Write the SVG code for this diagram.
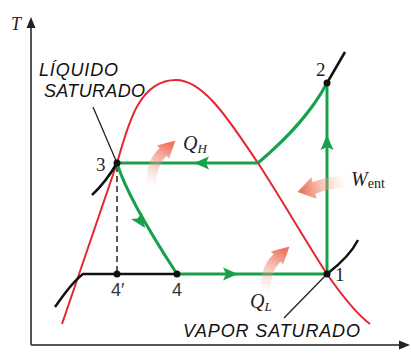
<svg xmlns="http://www.w3.org/2000/svg" width="411" height="358" viewBox="0 0 411 358">
<style>
.axis{stroke:#555;stroke-width:2;fill:none}
.dome{stroke:#e3262f;stroke-width:2;fill:none}
.cyc{stroke:#18a14b;stroke-width:3;fill:none}
.blk{stroke:#111;stroke-width:2.5;fill:none}
.thin{stroke:#222;stroke-width:1.3;fill:none}
.dash{stroke:#222;stroke-width:1.5;stroke-dasharray:6 4;fill:none}
.ah{fill:#18a14b}
.dot{fill:#111}
.lbl{font-family:"Liberation Sans",Arial,sans-serif;font-style:italic;font-size:18px;fill:#111}
.num{font-family:"Liberation Serif","Times New Roman",serif;font-size:19px;fill:#222}
.nums{font-family:"Liberation Sans",Arial,sans-serif;font-size:18px;fill:#333}
.var{font-family:"Liberation Serif","Times New Roman",serif;font-style:italic;fill:#222}
.sub{font-family:"Liberation Serif","Times New Roman",serif;fill:#222}
</style>
<defs>
<linearGradient id="gq" gradientUnits="userSpaceOnUse" x1="151" y1="186" x2="170" y2="145">
<stop offset="0" stop-color="#f7b59c" stop-opacity="0"/>
<stop offset="1" stop-color="#ed6f5b" stop-opacity="0.95"/>
</linearGradient>
<linearGradient id="gw" gradientUnits="userSpaceOnUse" x1="346" y1="182" x2="302" y2="190">
<stop offset="0" stop-color="#f7b59c" stop-opacity="0"/>
<stop offset="1" stop-color="#ed6f5b" stop-opacity="0.95"/>
</linearGradient>
<path id="qarrow" d="M146,186 Q146,160 159.6,148.3 L156.9,145.4 L175.5,140.5 L169.1,158.6 L166.4,155.7 Q156,166 156,186 Z" fill="url(#gq)"/>
</defs>

<g id="axes">
<path class="axis" d="M31,345 V24"/>
<path d="M31,17 L26.5,28 L35.5,28 Z" fill="#222"/>
<path class="axis" d="M31,345 H402"/>
<path d="M410,345 L399,340.5 L399,349.5 Z" fill="#222"/>
<text x="11" y="30" class="var" font-size="18">T</text>
</g>

<g id="dome">
<path class="dome" d="M62,324 L117,163 C127,130 137,80 176,80 C205,80 232,125 258,163 C282,200 305,240 327,274 C345,300 358,315 370,324"/>
</g>

<g id="isobars">
<path class="blk" d="M55,307 C63,296 72,282 83,274 L177,274"/>
<path class="blk" d="M92,195 Q106,182 117,163"/>
<path class="blk" d="M327,83 L345,52"/>
<path class="blk" d="M327,274 C340,264 352,252 358,240"/>
<path class="dash" d="M117,166 V272"/>
</g>

<g id="connectors">
<path class="cyc" d="M117,163 H258"/>
<path class="cyc" d="M258,163 C285,140 310,115 327,83"/>
<path class="cyc" d="M327,274 V83"/>
<path class="cyc" d="M117,163 C125,190 145,225 177,274"/>
<path class="cyc" d="M177,274 H327"/>
<path class="ah" d="M194,163 L209,156.5 L206,163 L209,169.5 Z"/>
<path class="ah" d="M327,135 L320.5,150 L327,147 L333.5,150 Z"/>
<path class="ah" d="M238,274 L223,267.5 L226,274 L223,280.5 Z"/>
<path class="ah" d="M145,228 L131,219 L137.5,218.5 L142,212.5 Z"/>
</g>

<g id="leaders">
<path class="thin" d="M93,107 L117,163"/>
<path class="thin" d="M327,274 L284,318"/>
</g>

<g id="heat">
<use href="#qarrow"/>
<use href="#qarrow" transform="translate(114,106)"/>
<path d="M345,176 Q328,176 312.6,182.2 L311.4,177.3 L297.5,192.1 L316.6,198.7 L315.4,193.8 Q330,188 345,188 Z" fill="url(#gw)"/>
</g>

<g id="p1"><circle class="dot" cx="327" cy="274" r="3.5"/><text x="335" y="281" class="num">1</text></g>
<g id="p2"><circle class="dot" cx="327" cy="83" r="3.5"/><text x="316" y="76" class="num">2</text></g>
<g id="p3"><circle class="dot" cx="117" cy="163" r="3.5"/><text x="96" y="171" class="num">3</text></g>
<g id="p4"><circle class="dot" cx="177" cy="274" r="3.5"/><text x="172" y="296" class="nums">4</text></g>
<g id="p4p"><circle class="dot" cx="117" cy="274" r="3.5"/><text x="111" y="296" class="nums">4′</text></g>

<g id="labels">
<text x="39" y="76" class="lbl" textLength="79">LÍQUIDO</text>
<text x="44" y="97" class="lbl" textLength="101">SATURADO</text>
<text x="183" y="337" class="lbl" textLength="177">VAPOR SATURADO</text>
<text x="183" y="150" class="var" font-size="20">Q<tspan class="var" font-size="13" dy="3">H</tspan></text>
<text x="250" y="308" class="var" font-size="20">Q<tspan class="var" font-size="13" dy="3">L</tspan></text>
<text x="351" y="186" class="var" font-size="20">W<tspan class="sub" font-size="14" dy="2" font-style="normal">ent</tspan></text>
</g>
</svg>
